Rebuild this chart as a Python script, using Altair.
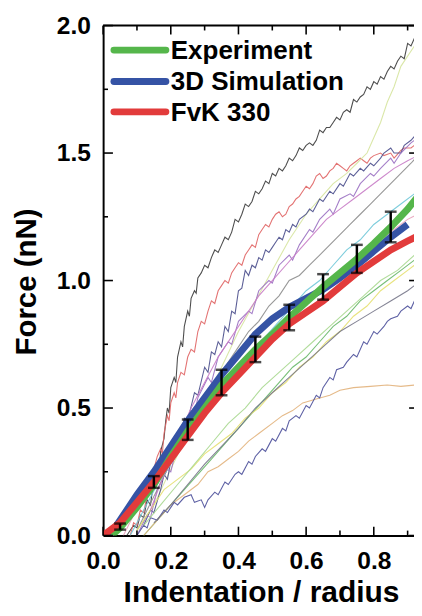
import altair as alt
import pandas as pd

# ---------------- data ----------------
exp_x = [0.025, 0.05, 0.10, 0.15, 0.20, 0.25, 0.30, 0.35, 0.40, 0.45, 0.50, 0.55, 0.60, 0.65, 0.70, 0.75, 0.80, 0.85, 0.90, 0.93]
exp_y = [0.0, 0.03, 0.11, 0.20, 0.31, 0.41, 0.50, 0.59, 0.66, 0.73, 0.79, 0.855, 0.915, 0.975, 1.03, 1.085, 1.145, 1.21, 1.28, 1.33]

sim_x = [0.02, 0.05, 0.10, 0.15, 0.20, 0.25, 0.30, 0.35, 0.40, 0.45, 0.50, 0.55, 0.60, 0.65, 0.70, 0.75, 0.80, 0.85, 0.90]
sim_y = [0.0, 0.06, 0.16, 0.25, 0.35, 0.45, 0.54, 0.63, 0.71, 0.79, 0.85, 0.895, 0.93, 0.965, 1.01, 1.06, 1.115, 1.17, 1.22]

fvk_x = [0.0, 0.05, 0.10, 0.15, 0.20, 0.25, 0.30, 0.35, 0.40, 0.45, 0.50, 0.55, 0.60, 0.65, 0.70, 0.75, 0.80, 0.85, 0.90, 0.93]
fvk_y = [0.0, 0.05, 0.13, 0.21, 0.30, 0.39, 0.48, 0.56, 0.63, 0.70, 0.77, 0.83, 0.875, 0.92, 0.975, 1.03, 1.075, 1.12, 1.155, 1.175]

err_x = [0.05, 0.15, 0.25, 0.35, 0.45, 0.55, 0.65, 0.75, 0.85]
err_mid = [0.035, 0.21, 0.415, 0.60, 0.73, 0.855, 0.975, 1.085, 1.21]
err_half = [0.012, 0.023, 0.04, 0.05, 0.05, 0.05, 0.05, 0.055, 0.06]

# thin individual experiment traces
thin_names = ["a", "b", "c", "d", "e", "f", "g", "h", "i", "j", "k", "l", "m", "n", "o"]
thin_colors = ["#3a3a3a", "#e06464", "#d6e49e", "#4a4e8c", "#9a70c2", "#8c8c8c", "#70c8d8",
               "#68b868", "#e2b27c", "#4b4f9a", "#e6e070", "#e8a2ba", "#a8d890", "#77778a", "#c87cc6"]

a_x = [0.07, 0.09, 0.10, 0.11, 0.12, 0.13, 0.14, 0.15, 0.16, 0.165, 0.17, 0.18, 0.185, 0.19, 0.195, 0.20, 0.21, 0.215, 0.22, 0.23, 0.235, 0.24, 0.25, 0.255, 0.26, 0.27, 0.275, 0.28, 0.29, 0.30, 0.31, 0.32, 0.33, 0.34, 0.35, 0.36, 0.37, 0.38, 0.39, 0.40, 0.41, 0.42, 0.43, 0.44, 0.45, 0.46, 0.47, 0.48, 0.49, 0.50, 0.51, 0.52, 0.53, 0.54, 0.55, 0.56, 0.57, 0.58, 0.59, 0.60, 0.61, 0.62, 0.63, 0.64, 0.65, 0.66, 0.67, 0.68, 0.69, 0.70, 0.71, 0.72, 0.73, 0.74, 0.75, 0.76, 0.77, 0.78, 0.79, 0.80, 0.81, 0.82, 0.83, 0.84, 0.85, 0.86, 0.87, 0.88, 0.89, 0.90, 0.91, 0.92]
a_y = [0.00, 0.04, 0.03, 0.08, 0.07, 0.14, 0.12, 0.22, 0.26, 0.24, 0.33, 0.38, 0.45, 0.50, 0.48, 0.58, 0.62, 0.60, 0.70, 0.76, 0.74, 0.82, 0.88, 0.86, 0.93, 0.96, 0.95, 1.01, 1.03, 1.06, 1.05, 1.09, 1.12, 1.11, 1.14, 1.17, 1.16, 1.19, 1.24, 1.23, 1.26, 1.30, 1.29, 1.31, 1.35, 1.34, 1.36, 1.39, 1.38, 1.42, 1.41, 1.44, 1.43, 1.45, 1.48, 1.47, 1.49, 1.52, 1.51, 1.53, 1.54, 1.53, 1.55, 1.59, 1.58, 1.60, 1.60, 1.62, 1.64, 1.63, 1.66, 1.67, 1.66, 1.71, 1.70, 1.72, 1.73, 1.76, 1.75, 1.78, 1.77, 1.80, 1.79, 1.82, 1.84, 1.83, 1.86, 1.88, 1.87, 1.93, 1.92, 1.95]

b_x = [0.08, 0.09, 0.10, 0.11, 0.12, 0.13, 0.14, 0.145, 0.15, 0.16, 0.17, 0.175, 0.18, 0.19, 0.195, 0.20, 0.21, 0.215, 0.22, 0.23, 0.24, 0.25, 0.26, 0.27, 0.28, 0.29, 0.30, 0.31, 0.32, 0.33, 0.34, 0.35, 0.36, 0.37, 0.38, 0.39, 0.40, 0.41, 0.42, 0.43, 0.44, 0.45, 0.46, 0.47, 0.48, 0.49, 0.50, 0.51, 0.52, 0.53, 0.54, 0.55, 0.56, 0.57, 0.58, 0.59, 0.60, 0.61, 0.62, 0.63, 0.64, 0.65, 0.66, 0.67, 0.68, 0.69, 0.70, 0.71, 0.72, 0.73, 0.74, 0.75, 0.76, 0.77, 0.78, 0.79, 0.80, 0.82, 0.83, 0.85, 0.86, 0.88, 0.89, 0.91, 0.92]
b_y = [0.00, 0.05, 0.04, 0.10, 0.09, 0.16, 0.22, 0.20, 0.26, 0.31, 0.34, 0.32, 0.40, 0.47, 0.45, 0.52, 0.56, 0.54, 0.60, 0.64, 0.63, 0.70, 0.73, 0.72, 0.80, 0.84, 0.83, 0.88, 0.92, 0.91, 0.96, 0.98, 1.00, 0.99, 1.03, 1.05, 1.07, 1.06, 1.10, 1.12, 1.14, 1.13, 1.18, 1.20, 1.22, 1.21, 1.24, 1.26, 1.27, 1.25, 1.26, 1.29, 1.30, 1.32, 1.33, 1.35, 1.37, 1.36, 1.38, 1.41, 1.42, 1.40, 1.41, 1.43, 1.44, 1.46, 1.45, 1.44, 1.43, 1.45, 1.46, 1.47, 1.48, 1.47, 1.46, 1.48, 1.49, 1.50, 1.49, 1.50, 1.48, 1.51, 1.52, 1.52, 1.53]

c_x = [0.10, 0.15, 0.20, 0.25, 0.30, 0.35, 0.40, 0.45, 0.50, 0.55, 0.60, 0.64, 0.68, 0.72, 0.75, 0.78, 0.80, 0.82, 0.84, 0.86, 0.88, 0.90, 0.92]
c_y = [0.02, 0.12, 0.26, 0.40, 0.52, 0.66, 0.80, 0.92, 1.04, 1.16, 1.26, 1.32, 1.38, 1.42, 1.46, 1.50, 1.56, 1.62, 1.70, 1.76, 1.84, 1.88, 1.92]

d_x = [0.12, 0.14, 0.15, 0.17, 0.18, 0.19, 0.21, 0.22, 0.24, 0.25, 0.27, 0.28, 0.30, 0.31, 0.32, 0.33, 0.34, 0.35, 0.36, 0.37, 0.38, 0.39, 0.40, 0.41, 0.42, 0.43, 0.44, 0.45, 0.46, 0.47, 0.48, 0.49, 0.50, 0.51, 0.52, 0.53, 0.54, 0.55, 0.56, 0.57, 0.58, 0.60, 0.61, 0.62, 0.64, 0.65, 0.67, 0.68, 0.70, 0.71, 0.73, 0.74, 0.76, 0.77, 0.79, 0.80, 0.82, 0.83, 0.85, 0.86, 0.88, 0.89, 0.91, 0.93]
d_y = [0.04, 0.10, 0.09, 0.18, 0.24, 0.22, 0.36, 0.34, 0.46, 0.45, 0.56, 0.55, 0.66, 0.64, 0.72, 0.71, 0.76, 0.74, 0.82, 0.80, 0.88, 0.87, 0.96, 0.97, 1.04, 1.02, 1.06, 1.05, 1.09, 1.08, 1.12, 1.11, 1.13, 1.15, 1.17, 1.16, 1.20, 1.19, 1.22, 1.21, 1.24, 1.26, 1.28, 1.27, 1.32, 1.31, 1.35, 1.34, 1.38, 1.37, 1.42, 1.41, 1.44, 1.43, 1.46, 1.45, 1.48, 1.50, 1.52, 1.50, 1.50, 1.53, 1.55, 1.58]

e_x = [0.10, 0.13, 0.14, 0.16, 0.19, 0.20, 0.22, 0.25, 0.26, 0.28, 0.31, 0.32, 0.34, 0.37, 0.38, 0.40, 0.43, 0.44, 0.46, 0.49, 0.50, 0.52, 0.55, 0.56, 0.58, 0.61, 0.62, 0.64, 0.67, 0.68, 0.70, 0.73, 0.74, 0.76, 0.79, 0.80, 0.82, 0.85, 0.86, 0.88, 0.91, 0.93]
e_y = [0.00, 0.08, 0.07, 0.18, 0.26, 0.25, 0.36, 0.44, 0.42, 0.54, 0.62, 0.60, 0.70, 0.76, 0.75, 0.84, 0.88, 0.87, 0.96, 1.00, 0.99, 1.06, 1.10, 1.08, 1.14, 1.20, 1.19, 1.24, 1.28, 1.26, 1.32, 1.34, 1.33, 1.38, 1.42, 1.41, 1.44, 1.48, 1.46, 1.50, 1.54, 1.56]

f_x = [0.10, 0.13, 0.16, 0.19, 0.22, 0.25, 0.28, 0.31, 0.34, 0.37, 0.40, 0.43, 0.46, 0.49, 0.52, 0.55, 0.58, 0.61, 0.64, 0.67, 0.70, 0.73, 0.76, 0.79, 0.82, 0.85, 0.88, 0.91, 0.93]
f_y = [0.02, 0.10, 0.18, 0.26, 0.34, 0.42, 0.48, 0.56, 0.62, 0.68, 0.74, 0.80, 0.84, 0.90, 0.94, 1.00, 1.02, 1.06, 1.10, 1.14, 1.18, 1.22, 1.26, 1.30, 1.34, 1.38, 1.42, 1.46, 1.49]

g_x = [0.08, 0.12, 0.16, 0.20, 0.24, 0.28, 0.32, 0.36, 0.40, 0.44, 0.48, 0.52, 0.56, 0.60, 0.64, 0.68, 0.72, 0.76, 0.80, 0.84, 0.88, 0.92]
g_y = [0.00, 0.10, 0.20, 0.28, 0.36, 0.44, 0.52, 0.58, 0.64, 0.70, 0.78, 0.84, 0.90, 0.96, 1.00, 1.06, 1.12, 1.16, 1.22, 1.26, 1.30, 1.34]

h_x = [0.12, 0.16, 0.20, 0.24, 0.28, 0.32, 0.36, 0.40, 0.44, 0.48, 0.52, 0.56, 0.60, 0.64, 0.68, 0.72, 0.76, 0.80, 0.84, 0.88, 0.92]
h_y = [0.00, 0.06, 0.12, 0.18, 0.24, 0.30, 0.36, 0.42, 0.48, 0.54, 0.60, 0.66, 0.70, 0.76, 0.82, 0.86, 0.92, 0.96, 1.00, 1.04, 1.08]

i_x = [0.12, 0.16, 0.20, 0.24, 0.28, 0.31, 0.34, 0.37, 0.40, 0.43, 0.46, 0.50, 0.53, 0.56, 0.59, 0.63, 0.67, 0.70, 0.74, 0.79, 0.84, 0.88, 0.92]
i_y = [0.00, 0.06, 0.12, 0.16, 0.20, 0.25, 0.27, 0.30, 0.33, 0.37, 0.40, 0.44, 0.47, 0.49, 0.52, 0.535, 0.55, 0.57, 0.58, 0.585, 0.59, 0.585, 0.59]

j_x = [0.10, 0.12, 0.13, 0.14, 0.16, 0.18, 0.19, 0.21, 0.22, 0.24, 0.26, 0.27, 0.29, 0.30, 0.31, 0.33, 0.34, 0.36, 0.37, 0.39, 0.40, 0.41, 0.43, 0.44, 0.45, 0.47, 0.48, 0.50, 0.51, 0.53, 0.54, 0.55, 0.57, 0.58, 0.60, 0.61, 0.63, 0.64, 0.65, 0.67, 0.68, 0.69, 0.71, 0.72, 0.74, 0.75, 0.77, 0.78, 0.80, 0.81, 0.83, 0.84, 0.85, 0.87, 0.88, 0.90, 0.91, 0.92]
j_y = [0.00, 0.04, 0.03, 0.07, 0.06, 0.10, 0.09, 0.13, 0.12, 0.15, 0.16, 0.13, 0.14, 0.11, 0.14, 0.17, 0.16, 0.21, 0.20, 0.24, 0.25, 0.24, 0.29, 0.28, 0.31, 0.34, 0.33, 0.38, 0.37, 0.42, 0.41, 0.45, 0.47, 0.46, 0.51, 0.50, 0.55, 0.54, 0.58, 0.62, 0.61, 0.65, 0.66, 0.68, 0.71, 0.70, 0.76, 0.75, 0.80, 0.79, 0.82, 0.84, 0.85, 0.86, 0.88, 0.90, 0.89, 0.92]

k_x = [0.10, 0.14, 0.18, 0.22, 0.26, 0.30, 0.34, 0.38, 0.42, 0.46, 0.50, 0.54, 0.58, 0.62, 0.66, 0.70, 0.74, 0.78, 0.82, 0.86, 0.90, 0.93]
k_y = [0.02, 0.10, 0.18, 0.22, 0.26, 0.32, 0.36, 0.40, 0.46, 0.50, 0.56, 0.60, 0.66, 0.70, 0.76, 0.80, 0.86, 0.90, 0.96, 1.00, 1.04, 1.07]

l_x = [0.06, 0.09, 0.12, 0.15, 0.18, 0.21, 0.24, 0.27, 0.30, 0.34, 0.38, 0.42, 0.46, 0.50, 0.54, 0.58, 0.62, 0.66, 0.70, 0.74, 0.78, 0.82, 0.86, 0.90, 0.93]
l_y = [0.00, 0.08, 0.15, 0.22, 0.30, 0.36, 0.42, 0.48, 0.52, 0.58, 0.62, 0.68, 0.74, 0.78, 0.84, 0.88, 0.94, 0.98, 1.04, 1.08, 1.12, 1.16, 1.20, 1.24, 1.26]

m_x = [0.12, 0.17, 0.22, 0.27, 0.32, 0.37, 0.42, 0.47, 0.52, 0.57, 0.62, 0.67, 0.72, 0.77, 0.82, 0.87, 0.92]
m_y = [0.04, 0.12, 0.20, 0.28, 0.36, 0.44, 0.50, 0.58, 0.64, 0.70, 0.76, 0.82, 0.88, 0.94, 1.00, 1.04, 1.10]

n_x = [0.15, 0.20, 0.25, 0.30, 0.35, 0.40, 0.45, 0.50, 0.55, 0.60, 0.65, 0.70, 0.75, 0.80, 0.85, 0.90, 0.93]
n_y = [0.05, 0.12, 0.20, 0.28, 0.35, 0.42, 0.50, 0.56, 0.62, 0.68, 0.74, 0.80, 0.84, 0.88, 0.92, 0.96, 0.99]

o_x = [0.14, 0.18, 0.22, 0.26, 0.30, 0.34, 0.38, 0.42, 0.46, 0.50, 0.54, 0.58, 0.62, 0.66, 0.70, 0.74, 0.78, 0.82, 0.86, 0.90, 0.93]
o_y = [0.10, 0.24, 0.38, 0.50, 0.60, 0.70, 0.78, 0.86, 0.94, 1.00, 1.06, 1.12, 1.18, 1.24, 1.28, 1.32, 1.36, 1.40, 1.44, 1.47, 1.49]

thin_xs = [a_x, b_x, c_x, d_x, e_x, f_x, g_x, h_x, i_x, j_x, k_x, l_x, m_x, n_x, o_x]
thin_ys = [a_y, b_y, c_y, d_y, e_y, f_y, g_y, h_y, i_y, j_y, k_y, l_y, m_y, n_y, o_y]

legend_labels = ["Experiment", "3D Simulation", "FvK 330"]
legend_colors = ["#55b64b", "#3553a5", "#e23b3b"]

x_major = [0.0, 0.2, 0.4, 0.6, 0.8]
x_minor = [0.1, 0.3, 0.5, 0.7, 0.9]
y_major = [0.0, 0.5, 1.0, 1.5, 2.0]
y_minor = [0.25, 0.75, 1.25, 1.75]

# ---------------- layout ----------------
W, H = 317, 520
FONT = "Liberation Sans"
xs = alt.Scale(domain=[0, W / 345.0], nice=False, zero=False, padding=0)
ys = alt.Scale(domain=[0, 2.0], nice=False, zero=False, padding=0)

thin_rows = []
for name, xv, yv in zip(thin_names, thin_xs, thin_ys):
    for xx, yy in zip(xv, yv):
        thin_rows.append({"curve": name, "x": xx, "y": yy})
thin_df = pd.DataFrame(thin_rows)

x_axis = alt.Axis(values=x_major, format=".1f", ticks=False, tickSize=0, grid=False,
                  labelFlush=False, labelOverlap=False,
                  labelFontSize=25, labelFont=FONT, labelFontWeight="bold", labelColor="black",
                  labelPadding=14, domainColor="black", domainWidth=2,
                  title="Indentation / radius", titleFont=FONT, titleFontSize=30.5,
                  titleFontWeight="bold", titleColor="black", titleX=161, titleY=67,
                  titleBaseline="alphabetic", titleAlign="center")
y_axis = alt.Axis(values=y_major, format=".1f", ticks=False, tickSize=0, grid=False,
                  labelFlush=False, labelOverlap=False,
                  labelFontSize=25, labelFont=FONT, labelFontWeight="bold", labelColor="black",
                  labelPadding=13, domainColor="black", domainWidth=2,
                  title="Force (nN)", titleFont=FONT, titleFontSize=30,
                  titleFontWeight="bold", titleColor="black", titleX=-69, titleY=261,
                  titleAngle=270, titleBaseline="alphabetic", titleAlign="center")

thin = alt.Chart(thin_df).mark_line(strokeWidth=1.1, opacity=0.9, clip=True).encode(
    x=alt.X("x:Q", scale=xs, axis=x_axis),
    y=alt.Y("y:Q", scale=ys, axis=y_axis),
    color=alt.Color("curve:N", scale=alt.Scale(domain=thin_names, range=thin_colors), legend=None),
)

def main_line(xv, yv, color):
    df = pd.DataFrame({"x": xv, "y": yv})
    return alt.Chart(df).mark_line(strokeWidth=7, color=color, clip=True).encode(
        x=alt.X("x:Q", scale=xs), y=alt.Y("y:Q", scale=ys))

blue = main_line(sim_x, sim_y, legend_colors[1])
green = main_line(exp_x, exp_y, legend_colors[0])
red = main_line(fvk_x, fvk_y, legend_colors[2])

err_df = pd.DataFrame({"x": err_x,
                       "lo": [m - h for m, h in zip(err_mid, err_half)],
                       "hi": [m + h for m, h in zip(err_mid, err_half)]})
err_rule = alt.Chart(err_df).mark_rule(color="black", strokeWidth=2.5).encode(
    x=alt.X("x:Q", scale=xs), y=alt.Y("lo:Q", scale=ys), y2="hi:Q")
cap_lo = alt.Chart(err_df).mark_tick(color="black", thickness=2.5, size=12, orient="horizontal").encode(
    x=alt.X("x:Q", scale=xs), y=alt.Y("lo:Q", scale=ys))
cap_hi = alt.Chart(err_df).mark_tick(color="black", thickness=2.5, size=12, orient="horizontal").encode(
    x=alt.X("x:Q", scale=xs), y=alt.Y("hi:Q", scale=ys))

# inward ticks and top frame
def vticks(vals, y0, y1):
    return alt.Chart(pd.DataFrame({"v": vals})).mark_rule(color="black", strokeWidth=1.6).encode(
        x=alt.X("v:Q", scale=xs), y=alt.value(y0), y2=alt.value(y1))

def hticks(vals, x0, x1):
    return alt.Chart(pd.DataFrame({"v": vals})).mark_rule(color="black", strokeWidth=1.6).encode(
        y=alt.Y("v:Q", scale=ys), x=alt.value(x0), x2=alt.value(x1))

frame_top = alt.Chart(pd.DataFrame({"v": [0]})).mark_rule(color="black", strokeWidth=2).encode(
    x=alt.value(0), x2=alt.value(W), y=alt.value(0))

ticks = [vticks(x_major, H, H - 9), vticks(x_minor, H, H - 5),
         vticks(x_major, 0, 9), vticks(x_minor, 0, 5),
         hticks(y_major, 0, 10), hticks(y_minor, 0, 5),
         hticks(y_major, W - 5, W)]

# legend
legend_rows = [25, 57, 88]
legend_layers = []
for lab, col, yy in zip(legend_labels, legend_colors, legend_rows):
    d = pd.DataFrame({"label": [lab]})
    legend_layers.append(alt.Chart(d).mark_rule(color=col, strokeWidth=7, strokeCap="round").encode(
        x=alt.value(11), x2=alt.value(64), y=alt.value(yy)))
    legend_layers.append(alt.Chart(d).mark_text(font=FONT, fontSize=26.5, fontWeight="bold", color="black",
                                                align="left", baseline="middle").encode(
        x=alt.value(69), y=alt.value(yy + 1), text="label:N"))

chart = alt.layer(thin, blue, green, red, err_rule, cap_lo, cap_hi, frame_top, *ticks, *legend_layers).properties(
    width=W, height=H,
    autosize=alt.AutoSizeParams(type="none"),
    padding={"left": 97, "top": 12, "right": 0, "bottom": 68},
    background="white",
).configure_view(stroke=None)

chart.save("out.html", embed_options={"renderer": "svg", "actions": False})
